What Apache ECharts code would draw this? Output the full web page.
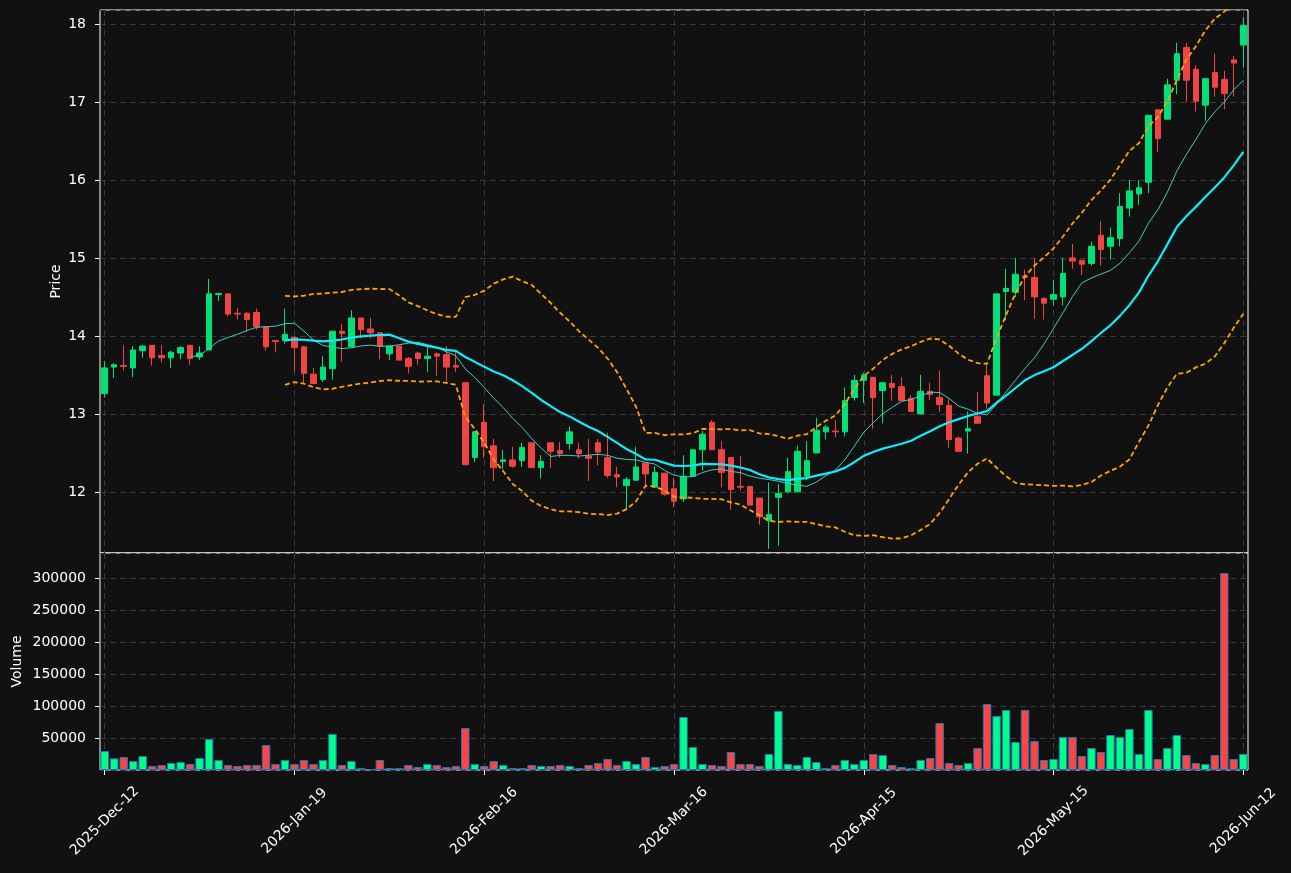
<!DOCTYPE html>
<html>
<head>
<meta charset="utf-8">
<title>Price / Volume</title>
<script src="https://cdn.jsdelivr.net/npm/echarts@6/dist/echarts.min.js"></script>
<style>
  html, body { margin: 0; padding: 0; background: #111111; }
  #chart { width: 1291px; height: 873px; }
</style>
</head>
<body>
<div id="chart"></div>
<script>
// trading calendar (weekdays between the two dates, minus the missing days)
const firstDay = '2025-12-12'
const lastDay = '2026-06-12'
const missingDays = ['2025-12-24', '2025-12-25', '2025-12-26', '2025-12-31', '2026-01-01',
  '2026-01-02', '2026-04-03', '2026-04-06', '2026-04-30', '2026-05-01']

const opens = [13.26, 13.60, 13.62, 13.59, 13.81, 13.88, 13.75, 13.72, 13.78, 13.88,
  13.73, 13.82, 14.53, 14.54, 14.29, 14.29, 14.30, 14.12, 13.94, 13.94,
  13.98, 13.86, 13.51, 13.44, 13.58, 14.06, 13.86, 14.23, 14.09, 14.04,
  13.77, 13.87, 13.71, 13.78, 13.71, 13.77, 13.76, 13.62, 13.40, 12.44,
  12.89, 12.59, 12.39, 12.41, 12.40, 12.63, 12.31, 12.63, 12.53, 12.62,
  12.54, 12.46, 12.63, 12.44, 12.22, 12.08, 12.15, 12.37, 12.06, 12.24,
  12.04, 11.91, 12.20, 12.54, 12.89, 12.54, 12.44, 12.07, 12.07, 11.92,
  11.63, 11.93, 12.00, 12.00, 12.20, 12.50, 12.77, 12.78, 12.77, 13.21,
  13.43, 13.47, 13.30, 13.39, 13.35, 13.20, 13.00, 13.29, 13.21, 13.11,
  12.69, 12.78, 12.97, 13.49, 13.24, 14.57, 14.56, 14.77, 14.75, 14.48,
  14.47, 14.50, 15.00, 14.97, 14.93, 15.29, 15.15, 15.25, 15.64, 15.82,
  15.97, 16.90, 16.78, 17.28, 17.70, 17.42, 16.96, 17.38, 17.29, 17.54,
  17.73]
const closes = [13.59, 13.63, 13.61, 13.82, 13.87, 13.72, 13.72, 13.79, 13.85, 13.71,
  13.78, 14.54, 14.545, 14.28, 14.28, 14.21, 14.12, 13.86, 13.93, 14.02,
  13.85, 13.52, 13.39, 13.60, 14.06, 14.03, 14.23, 14.08, 14.04, 13.87,
  13.87, 13.69, 13.61, 13.71, 13.74, 13.74, 13.60, 13.60, 12.35, 12.77,
  12.58, 12.31, 12.41, 12.33, 12.57, 12.31, 12.39, 12.52, 12.49, 12.77,
  12.49, 12.43, 12.51, 12.21, 12.19, 12.16, 12.32, 12.23, 12.25, 11.97,
  11.88, 12.20, 12.54, 12.74, 12.54, 12.25, 12.03, 12.06, 11.83, 11.68,
  11.71, 11.98, 12.26, 12.52, 12.40, 12.79, 12.83, 12.77, 13.17, 13.43,
  13.50, 13.21, 13.40, 13.34, 13.17, 13.03, 13.29, 13.25, 13.12, 12.67,
  12.52, 12.81, 12.88, 13.14, 14.54, 14.61, 14.79, 14.75, 14.50, 14.42,
  14.53, 14.80, 14.96, 14.92, 15.15, 15.11, 15.26, 15.66, 15.86, 15.90,
  16.83, 16.53, 17.22, 17.62, 17.28, 17.01, 17.30, 17.19, 17.11, 17.50,
  17.98]
const lows = [13.21, 13.46, 13.56, 13.47, 13.72, 13.62, 13.66, 13.59, 13.70, 13.63,
  13.69, 13.82, 14.45, 14.25, 14.21, 14.05, 14.08, 13.81, 13.79, 13.90,
  13.54, 13.39, 13.38, 13.41, 13.44, 13.67, 13.86, 13.97, 13.97, 13.70,
  13.69, 13.69, 13.52, 13.63, 13.54, 13.49, 13.42, 13.54, 12.34, 12.38,
  12.43, 12.14, 12.29, 12.31, 12.32, 12.31, 12.17, 12.31, 12.44, 12.54,
  12.43, 12.14, 12.34, 12.18, 12.06, 11.78, 12.15, 12.07, 12.06, 11.95,
  11.80, 11.87, 12.20, 12.27, 12.54, 12.06, 11.77, 12.02, 11.83, 11.58,
  11.27, 11.31, 11.98, 12.00, 12.15, 12.50, 12.67, 12.70, 12.71, 13.17,
  13.14, 12.81, 12.88, 13.17, 13.17, 13.03, 13.00, 13.18, 13.03, 12.56,
  12.51, 12.49, 12.88, 13.06, 13.24, 14.20, 14.50, 14.46, 14.22, 14.21,
  14.39, 14.39, 14.86, 14.78, 14.90, 14.90, 14.98, 15.15, 15.53, 15.68,
  15.83, 16.36, 16.78, 17.10, 17.00, 16.88, 16.76, 17.07, 16.91, 17.07,
  17.44]
const highs = [13.67, 13.65, 13.88, 13.87, 13.88, 13.88, 13.88, 13.81, 13.87, 13.88,
  13.87, 14.73, 14.55, 14.54, 14.36, 14.31, 14.35, 14.12, 13.94, 14.35,
  14.00, 13.87, 13.59, 13.74, 14.06, 14.15, 14.33, 14.23, 14.23, 14.05,
  13.87, 13.87, 13.73, 13.80, 13.87, 13.79, 13.87, 13.80, 13.40, 12.78,
  13.12, 12.68, 12.54, 12.58, 12.63, 12.63, 12.47, 12.63, 12.64, 12.84,
  12.63, 12.68, 12.68, 12.76, 12.32, 12.19, 12.58, 12.37, 12.33, 12.24,
  12.18, 12.47, 12.54, 12.78, 12.92, 12.65, 12.44, 12.46, 12.07, 11.92,
  12.12, 12.10, 12.44, 12.59, 12.65, 12.95, 12.86, 12.92, 13.34, 13.50,
  13.53, 13.47, 13.40, 13.50, 13.47, 13.24, 13.50, 13.40, 13.56, 13.19,
  12.71, 13.03, 13.28, 13.64, 14.54, 14.86, 15.00, 14.85, 15.00, 14.50,
  14.72, 15.00, 15.18, 14.97, 15.21, 15.47, 15.39, 15.83, 16.00, 16.00,
  16.83, 16.90, 17.30, 17.76, 17.76, 17.47, 17.30, 17.62, 17.40, 17.59,
  18.09]
const volumes = [29700, 18200, 20300, 14100, 21900, 6300, 7800, 10900, 12500, 9400,
  18800, 48400, 15600, 7800, 6300, 7800, 7800, 39100, 9400, 15600,
  9400, 15600, 9400, 15600, 56300, 7800, 14100, 3100, 1500, 15600,
  3100, 3100, 7800, 4700, 9400, 7800, 4700, 6300, 65600, 9400,
  6300, 14100, 7800, 3100, 3100, 7800, 6300, 6300, 7800, 6300,
  3100, 7800, 10900, 17200, 7800, 14100, 9400, 20300, 4700, 6300,
  9400, 82800, 35900, 9400, 7800, 6300, 28100, 9400, 9400, 6300,
  25000, 92200, 9400, 7800, 20300, 12500, 3100, 7800, 15600, 9400,
  15600, 25000, 23400, 7800, 4700, 3100, 15600, 18800, 73400, 10900,
  7800, 10900, 34400, 103100, 84400, 93800, 43800, 93800, 45300, 15600,
  17200, 51600, 51600, 21900, 34400, 28100, 54700, 51600, 64100, 25000,
  93800, 17200, 34400, 54700, 23400, 10900, 9400, 23400, 307800, 17200,
  25000]

const upColor = '#00e079'
const downColor = '#ef4444'
const volUp = '#00ff88'
const volDown = '#ff4444'
const gridLine = { color: '#3a3a3a', type: [6, 4], width: 1 }

// Construction des dates
const monthNames = ['Jan', 'Feb', 'Mar', 'Apr', 'May', 'Jun', 'Jul', 'Aug', 'Sep', 'Oct', 'Nov', 'Dec']
const pad = n => (n < 10 ? '0' + n : '' + n)
const dates = []
for (let t = Date.parse(firstDay + 'T00:00:00Z'); t <= Date.parse(lastDay + 'T00:00:00Z'); t += 86400000) {
  const d = new Date(t)
  const iso = d.toISOString().slice(0, 10)
  if (d.getUTCDay() === 0 || d.getUTCDay() === 6 || missingDays.includes(iso)) continue
  dates.push(d.getUTCFullYear() + '-' + monthNames[d.getUTCMonth()] + '-' + pad(d.getUTCDate()))
}

// indicateurs calculés sur les clôtures
const rollingMean = (n) => closes.map((_, i) => {
  if (i < n - 1) return '-'
  let s = 0
  for (let k = i - n + 1; k <= i; k++) s += closes[k]
  return +(s / n).toFixed(4)
})
const ma10 = rollingMean(10)
const ma20 = rollingMean(20)
const band = (sign) => closes.map((_, i) => {
  if (i < 19) return '-'
  const m = ma20[i]
  let v = 0
  for (let k = i - 19; k <= i; k++) v += (closes[k] - m) * (closes[k] - m)
  return +(m + sign * 2 * Math.sqrt(v / 20)).toFixed(4)
})
const bbUpper = band(1)
const bbLower = band(-1)

const ohlc = opens.map((o, i) => [o, closes[i], lows[i], highs[i]])
const volData = volumes.map((v, i) => ({
  value: v,
  itemStyle: { color: closes[i] >= opens[i] ? volUp : volDown }
}))

const chart = echarts.init(document.getElementById('chart'))

const option = {
  backgroundColor: '#111111',
  animation: false,
  textStyle: { fontFamily: 'DejaVu Sans' },
  grid: [
    { left: 100, top: 10, width: 1148, height: 543, show: true, borderColor: '#ffffff', borderWidth: 1, backgroundColor: '#111111' },
    { left: 100, top: 553, width: 1148, height: 217, show: true, borderColor: '#ffffff', borderWidth: 1, backgroundColor: '#111111' }
  ],
  xAxis: [
    {
      type: 'category',
      gridIndex: 0,
      data: dates,
      axisLine: { show: false },
      axisTick: { show: false },
      axisLabel: { show: false },
      splitLine: { show: true, interval: 19, alignWithLabel: true, lineStyle: gridLine }
    },
    {
      type: 'category',
      gridIndex: 1,
      data: dates,
      axisLine: { show: false },
      axisTick: { show: true, interval: 19, alignWithLabel: true, length: 5, lineStyle: { color: '#ffffff' } },
      axisLabel: {
        interval: 19,
        rotate: 45,
        align: 'center',
        verticalAlign: 'middle',
        margin: 51,
        padding: [0, 0, 14, 0],
        color: '#ffffff',
        fontSize: 14
      },
      splitLine: { show: true, interval: 19, alignWithLabel: true, lineStyle: gridLine }
    }
  ],
  yAxis: [
    {
      type: 'value',
      gridIndex: 0,
      min: 11.216,
      max: 18.18,
      name: 'Price',
      nameLocation: 'middle',
      nameGap: 37,
      nameMoveOverlap: false,
      nameRotate: 90,
      nameTextStyle: { color: '#ffffff', fontSize: 14 },
      axisLine: { show: false },
      axisTick: { show: true, length: 5, lineStyle: { color: '#ffffff' } },
      axisLabel: { color: '#ffffff', fontSize: 14, margin: 14, showMinLabel: false, showMaxLabel: false },
      splitLine: { show: true, lineStyle: gridLine }
    },
    {
      type: 'value',
      gridIndex: 1,
      min: 0,
      max: 339000,
      name: 'Volume',
      nameLocation: 'middle',
      nameGap: 76,
      nameMoveOverlap: false,
      nameRotate: 90,
      nameTextStyle: { color: '#ffffff', fontSize: 14 },
      axisLine: { show: false },
      axisTick: { show: true, length: 5, lineStyle: { color: '#ffffff' } },
      axisLabel: {
        color: '#ffffff', fontSize: 14, margin: 14, showMinLabel: false, showMaxLabel: false,
        formatter: v => String(v)
      },
      splitLine: { show: true, lineStyle: gridLine }
    }
  ],
  series: [
    {
      type: 'candlestick',
      xAxisIndex: 0,
      yAxisIndex: 0,
      data: ohlc,
      barWidth: 6,
      z: 2,
      itemStyle: { color: upColor, color0: downColor, borderColor: upColor, borderColor0: downColor, borderWidth: 1 }
    },
    {
      type: 'line', xAxisIndex: 0, yAxisIndex: 0, data: ma10, symbol: 'none', z: 3,
      lineStyle: { color: '#48c9c2', width: 1 }
    },
    {
      type: 'line', xAxisIndex: 0, yAxisIndex: 0, data: ma20, symbol: 'none', z: 3,
      lineStyle: { color: '#10ecfa', width: 2.2 }
    },
    {
      type: 'line', xAxisIndex: 0, yAxisIndex: 0, data: bbUpper, symbol: 'none', z: 4,
      lineStyle: { color: '#ffa500', width: 1.8, type: [5, 3] }
    },
    {
      type: 'line', xAxisIndex: 0, yAxisIndex: 0, data: bbLower, symbol: 'none', z: 4,
      lineStyle: { color: '#ffa500', width: 1.8, type: [5, 3] }
    },
    {
      type: 'bar',
      xAxisIndex: 1,
      yAxisIndex: 1,
      data: volData,
      barWidth: 8.5,
      itemStyle: { borderColor: '#1f77b4', borderWidth: 1 }
    }
  ]
}

chart.setOption(option)
window.addEventListener('resize', () => chart.resize())
</script>
</body>
</html>
